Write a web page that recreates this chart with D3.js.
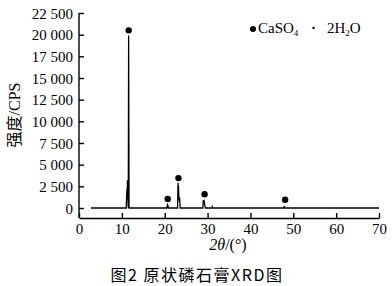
<!DOCTYPE html>
<html>
<head>
<meta charset="utf-8">
<script src="https://cdn.jsdelivr.net/npm/d3@7/dist/d3.min.js"></script>
<style>
  body { margin: 0; background: #fff; }
  text { fill: #000; }
</style>
</head>
<body>
<div id="contents"></div>
<script>
// XRD pattern
const angle = [2.8, 11.0, 11.15, 11.2, 11.25, 11.3, 11.35, 11.45, 11.5, 11.58, 11.68,
    20.5, 20.65, 20.75, 20.85, 23.0, 23.1, 23.15, 23.2, 23.3, 23.4, 23.5, 23.6,
    28.9, 29.0, 29.1, 29.2, 29.35, 29.5, 31.0, 31.1, 31.2, 47.8, 47.9, 48.0, 70];
const intensity = [0, 0, 1800, 2200, 1600, 3200, 2000, 400, 0, 19900, 0,
    0, 400, 300, 0, 0, 2900, 1800, 2600, 1200, 900, 1000, 0,
    0, 900, 700, 800, 300, 0, 0, 150, 0, 0, 250, 0, 0];

// CaSO4·2H2O markers
const dotAngle = [11.6, 20.7, 23.2, 29.3, 48.1];
const dotValue = [20500, 1050, 3450, 1600, 950];

const xTicks = [0, 10, 20, 30, 40, 50, 60, 70];
const yTicks = [0, 2500, 5000, 7500, 10000, 12500, 15000, 17500, 20000, 22500];

const width = 392, height = 286;
const serif = "'Liberation Serif', 'DejaVu Serif', serif";
const cjk = "'Noto Sans CJK SC', sans-serif";

const x = d3.scaleLinear().domain([0, 70]).range([79, 379]);
const y = d3.scaleLinear().domain([0, 22500]).range([208, 13]);
const axisY = 218;

const fmt = d3.formatLocale({decimal: ".", thousands: " ", grouping: [3], currency: ["", ""]}).format(",");

const svg = d3.select("#contents").append("svg")
    .attr("width", width)
    .attr("height", height);

// x axis
const gx = svg.append("g")
    .attr("transform", "translate(0," + axisY + ")")
    .call(d3.axisBottom(x).tickValues(xTicks).tickFormat(d3.format("d"))
        .tickSizeInner(-5).tickSizeOuter(0).tickPadding(5));

// y axis
const gy = svg.append("g")
    .attr("transform", "translate(79,0)")
    .call(d3.axisLeft(y).tickValues(yTicks).tickFormat(fmt)
        .tickSizeInner(-5).tickSizeOuter(0).tickPadding(6));
gy.select(".domain").attr("d", "M0," + y(22500) + "V" + axisY);

svg.selectAll(".domain, .tick line").attr("stroke", "#000").attr("stroke-width", 1.4);
svg.selectAll(".tick text")
    .style("font-family", serif).style("font-size", "15px").attr("fill", "#000");
gy.selectAll(".tick text").attr("dy", "0.34em");

// pattern
const line = d3.line()
    .x((d, i) => x(angle[i]))
    .y(d => y(d));
svg.append("path")
    .datum(intensity)
    .attr("fill", "none")
    .attr("stroke", "#000")
    .attr("stroke-width", 1.3)
    .attr("d", line);

svg.selectAll("circle.mark")
    .data(dotValue)
    .join("circle")
    .attr("class", "mark")
    .attr("cx", (d, i) => x(dotAngle[i]))
    .attr("cy", d => y(d))
    .attr("r", 3.2)
    .attr("fill", "#000");

// legend
svg.append("circle").attr("cx", 253).attr("cy", 29).attr("r", 3).attr("fill", "#000");
const leg = svg.append("text")
    .attr("y", 33)
    .style("font-family", serif).style("font-size", "15px");
leg.append("tspan").attr("x", 258).text("CaSO");
leg.append("tspan").attr("dy", 3).style("font-size", "9px").text("4");
leg.append("tspan").attr("x", 311).attr("dy", -3).style("font-weight", "bold").text("\u00b7");
leg.append("tspan").attr("x", 327).text("2H");
leg.append("tspan").attr("dy", 3).style("font-size", "9px").text("2");
leg.append("tspan").attr("dy", -3).text("O");

// axis titles
const yt = svg.append("text")
    .attr("transform", "translate(20,115) rotate(-90)")
    .attr("text-anchor", "middle")
    .style("font-size", "16px");
yt.append("tspan").style("font-family", cjk).text("强度");
yt.append("tspan").style("font-family", serif).text("/CPS");

const xt = svg.append("text")
    .attr("x", 228).attr("y", 250)
    .attr("text-anchor", "middle")
    .style("font-family", serif).style("font-size", "16px");
xt.append("tspan").style("font-style", "italic").text("2θ");
xt.append("tspan").text("/(°)");

svg.append("text")
    .attr("x", 197).attr("y", 281)
    .attr("text-anchor", "middle")
    .style("font-family", cjk).style("font-size", "16px")
    .style("letter-spacing", "1.5px")
    .text("图2 原状磷石膏XRD图");
</script>
</body>
</html>
